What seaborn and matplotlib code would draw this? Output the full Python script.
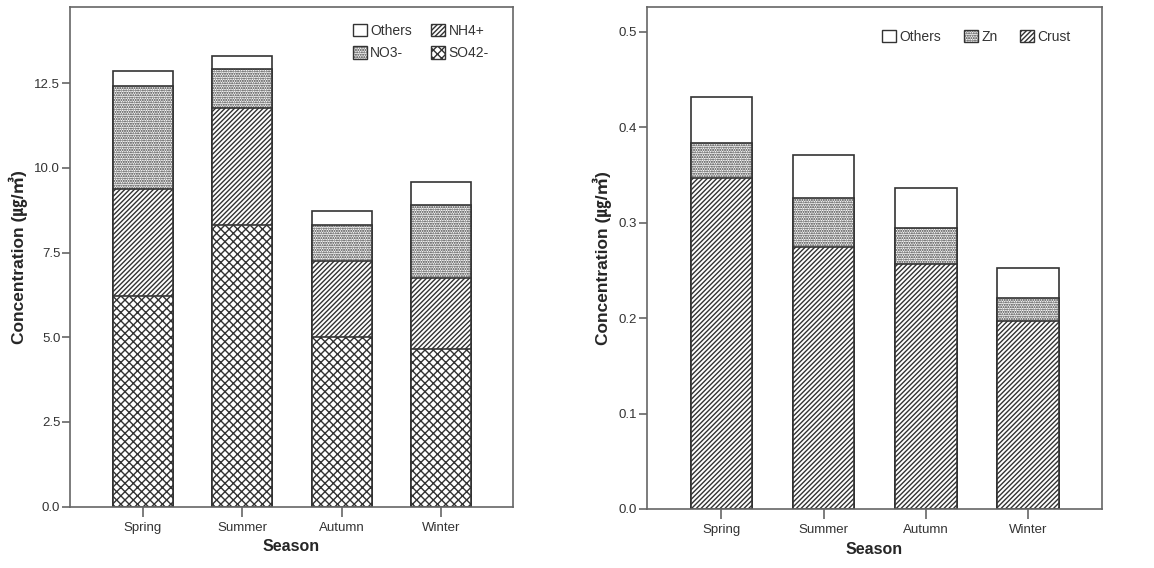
import numpy as np
import pandas as pd
import matplotlib
matplotlib.use("Agg")
import matplotlib.pyplot as plt
from matplotlib.patches import Patch
import seaborn as sns

# Seasonal concentrations (ug/m3)
seasons = ["Spring", "Summer", "Autumn", "Winter"]

# Water-soluble ions, bottom to top
so4 = [6.22, 8.31, 5.02, 4.65]
nh4 = [3.15, 3.45, 2.23, 2.09]
no3 = [3.04, 1.16, 1.05, 2.15]
others_ions = [0.45, 0.39, 0.44, 0.69]

# Trace elements, bottom to top
crust = [0.347, 0.274, 0.257, 0.197]
zn = [0.036, 0.052, 0.037, 0.024]
others_elem = [0.049, 0.045, 0.042, 0.031]

sns.set_theme(style="white")
plt.rcParams["font.family"] = ["Liberation Sans", "Noto Sans CJK KR", "DejaVu Sans"]
plt.rcParams["hatch.linewidth"] = 1.0

EDGE = "#333333"
SPINE = "#666666"
TEXT = "#333333"

HATCH = {"dots": ".......", "lines": "///////", "cross": "xxxx"}


def stacked(ax, layers):
    """layers: list of (name, values, hatch) from bottom to top."""
    cum = np.zeros(len(seasons))
    tops = []
    for name, vals, hatch in layers:
        cum = cum + np.asarray(vals, dtype=float)
        tops.append((name, cum.copy(), hatch))
    # draw tallest first so lower segments cover upper ones
    for name, top, hatch in reversed(tops):
        df = pd.DataFrame({"Season": seasons, "value": top})
        sns.barplot(data=df, x="Season", y="value", order=seasons, ax=ax,
                    color="white", edgecolor=EDGE, linewidth=1.2,
                    hatch=hatch, width=0.6, errorbar=None)


def style_axes(ax, ylim, yticks, fmt):
    ax.set_xlim(-0.73, 3.72)
    ax.set_ylim(*ylim)
    ax.set_yticks(yticks)
    ax.set_yticklabels([fmt.format(t) for t in yticks])
    for s in ax.spines.values():
        s.set_visible(True)
        s.set_color(SPINE)
        s.set_linewidth(1.2)
    ax.tick_params(axis="y", left=True, length=6, width=1.2, color=SPINE,
                   pad=1, labelsize=9.5, labelcolor=TEXT)
    ax.tick_params(axis="x", bottom=True, length=7, width=1.2, color=SPINE,
                   pad=4, labelsize=9.5, labelcolor=TEXT)
    ax.set_xlabel("Season", fontsize=11.5, fontweight="bold", labelpad=4)
    ax.set_ylabel("Concentration (㎍/㎥)", fontsize=12.5, fontweight="bold",
                  labelpad=5)


fig = plt.figure(figsize=(11.54, 5.68), dpi=100)
ax1 = fig.add_axes([0.0607, 0.108, 0.3838, 0.8797])
ax2 = fig.add_axes([0.5604, 0.1039, 0.3943, 0.8841])

stacked(ax1, [("SO42-", so4, HATCH["cross"]),
              ("NH4+", nh4, HATCH["lines"]),
              ("NO3-", no3, HATCH["dots"]),
              ("Others", others_ions, "")])
style_axes(ax1, (0, 14.75), [0, 2.5, 5.0, 7.5, 10.0, 12.5], "{:.1f}")

stacked(ax2, [("Crust", crust, HATCH["lines"]),
              ("Zn", zn, HATCH["dots"]),
              ("Others", others_elem, "")])
style_axes(ax2, (0, 0.526), [0, 0.1, 0.2, 0.3, 0.4, 0.5], "{:.1f}")


def handle(h):
    return Patch(facecolor="white", edgecolor=EDGE, hatch=h, linewidth=1.0)


leg_kw = dict(frameon=False, loc="upper right", fontsize=10,
              handlelength=1.0, handleheight=1.0, handletextpad=0.25,
              borderaxespad=0, borderpad=0)
leg1 = ax1.legend([handle(""), handle(HATCH["dots"]), handle(HATCH["lines"]), handle(HATCH["cross"])],
                  ["Others", "NO3-", "NH4+", "SO42-"], ncol=2,
                  bbox_to_anchor=(0.946, 0.966), columnspacing=1.4,
                  labelspacing=0.6, **leg_kw)
leg2 = ax2.legend([handle(""), handle(HATCH["dots"]), handle(HATCH["lines"])],
                  ["Others", "Zn", "Crust"], ncol=3,
                  bbox_to_anchor=(0.932, 0.954), columnspacing=1.65, **leg_kw)
for leg in (leg1, leg2):
    for t in leg.get_texts():
        t.set_color(TEXT)

fig.savefig("out.png", dpi=100)
